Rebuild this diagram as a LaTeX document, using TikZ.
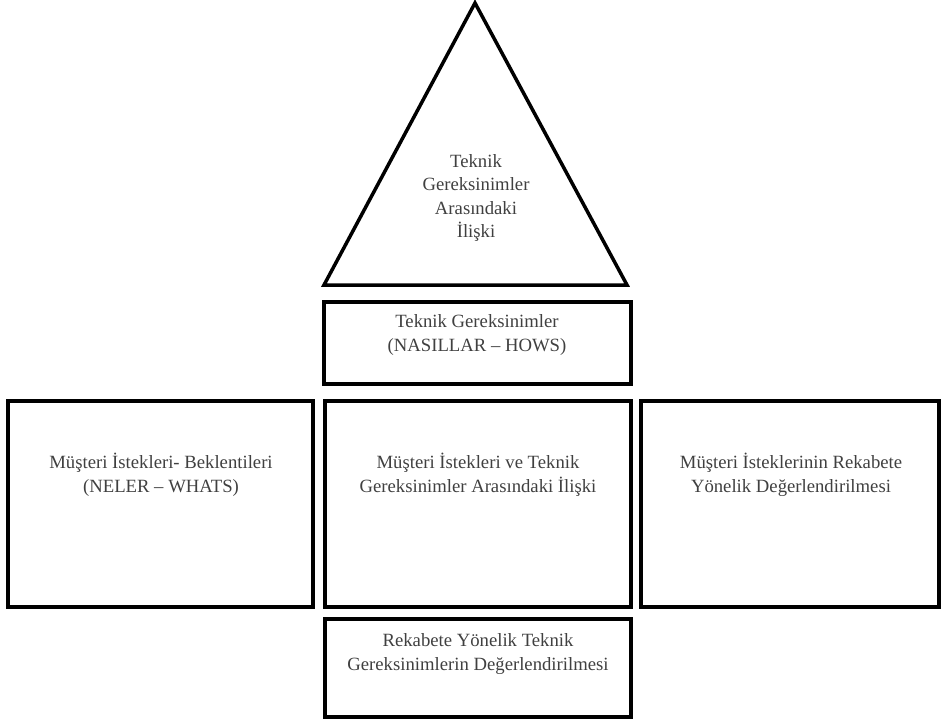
\documentclass[tikz,border=0pt]{standalone}
\usepackage{fontspec}
\setmainfont{Liberation Serif}
\usepackage{tikz}
\usetikzlibrary{positioning}
\tikzset{
  frame/.style={line width=3.5pt},
  label/.style={align=center,text=black!75,font=\fontsize{18.7}{23.5}\selectfont,inner sep=0pt}
}

\begin{document}
\begin{tikzpicture}[x=1pt,y=-1pt]
	\useasboundingbox (0,0) rectangle (946,721);
	
	% ust ucgen
	\draw[frame,line join=miter](475,3)--(627,285)--(324,285)--cycle;
	\node[label] (iliski) at (476,198) {Teknik\\Gereksinimler\\Aras\i ndaki\\\.Ili\c ski};
	
	% nasillar
	\draw[frame] (324,302) rectangle (631,384);
	\node[label] (nasillar) at (477,335) {Teknik Gereksinimler\\(NASILLAR -- HOWS)};
	
	% orta sira
	\draw[frame] (8,401) rectangle (313,607);
	\draw[frame] (325,401) rectangle (631,607);
	\draw[frame] (641,401) rectangle (939,607);
	\node[label] (neler) at (161,475) {Müşteri İstekleri- Beklentileri\\(NELER -- WHATS)};
	\node[label] (matris) at (478,475) {Müşteri İstekleri ve Teknik\\Gereksinimler Arasındaki İlişki};
	\node[label] (rekabet) at (791,475) {Müşteri İsteklerinin Rekabete\\Yönelik Değerlendirilmesi};
	
	% alt kutu
	\draw[frame] (325,619) rectangle (631,717);
	\node[label] (teknikrek) at (478,654) {Rekabete Yönelik Teknik\\Gereksinimlerin Değerlendirilmesi};
	
\end{tikzpicture}
\end{document}
